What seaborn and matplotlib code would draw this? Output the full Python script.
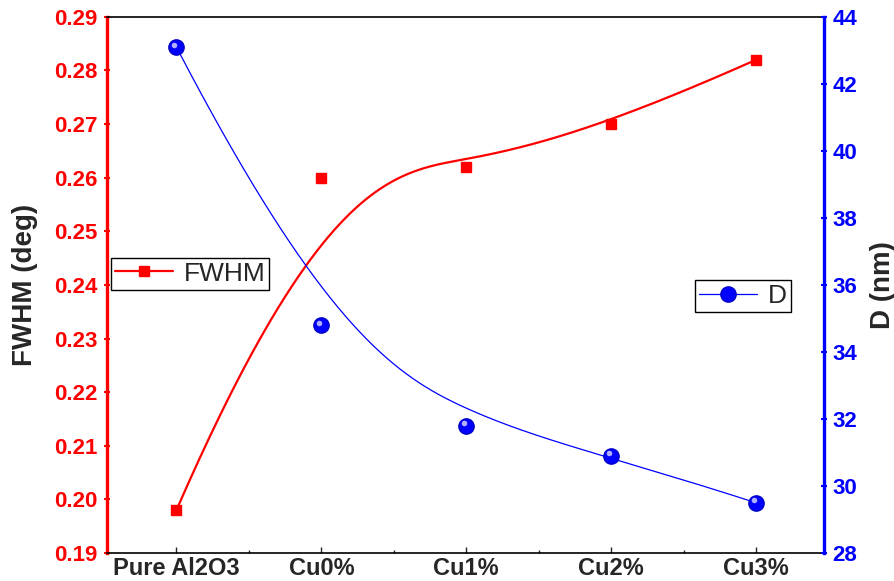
import numpy as np
import seaborn as sns
import matplotlib.pyplot as plt
from matplotlib.lines import Line2D
from matplotlib.transforms import offset_copy

# Datos
samples = ["Pure Al2O3", "Cu0%", "Cu1%", "Cu2%", "Cu3%"]
fwhm = [0.198, 0.260, 0.262, 0.270, 0.282]
crystal_size = [43.1, 34.8, 31.8, 30.9, 29.5]


def bspline(px, py, n=300, k=3):
    '''B-spline cúbica sujeta usando los puntos como puntos de control'''
    px = np.asarray(px, float)
    py = np.asarray(py, float)
    m = len(px)
    knots = np.concatenate([np.zeros(k), np.linspace(0, 1, m - k + 1), np.ones(k)])
    t = np.linspace(0, 1, n)
    N = np.zeros((n, len(knots) - 1))
    for j in range(len(knots) - 1):
        N[:, j] = (knots[j] <= t) & (t < knots[j + 1])
    N[-1, m - 1] = 1.0
    for d in range(1, k + 1):
        newN = np.zeros((n, len(knots) - 1 - d))
        for j in range(len(knots) - 1 - d):
            a = knots[j + d] - knots[j]
            b = knots[j + d + 1] - knots[j + 1]
            left = (t - knots[j]) / a * N[:, j] if a > 0 else 0
            right = (knots[j + d + 1] - t) / b * N[:, j + 1] if b > 0 else 0
            newN[:, j] = left + right
        N = newN
    return N @ px, N @ py


sns.set_style("white")
plt.rcParams['font.family'] = ['Liberation Sans', 'DejaVu Sans']

x = np.arange(len(samples))
fig, ax = plt.subplots(figsize=(8.95, 5.81), dpi=100)
fig.subplots_adjust(left=0.12, right=0.921, bottom=0.048, top=0.971)
ax2 = ax.twinx()

# Curva FWHM
sx, sy = bspline(x, fwhm)
sns.lineplot(x=sx, y=sy, ax=ax, color='red', lw=1.6, sort=False, estimator=None)
ax.plot(x, fwhm, 's', color='red', ms=7.5, zorder=5)

# Curva D
sx2, sy2 = bspline(x, crystal_size)
sns.lineplot(x=sx2, y=sy2, ax=ax2, color='blue', lw=0.9, sort=False, estimator=None)
ax2.plot(x, crystal_size, 'o', color='blue', mec='#0000c8', ms=11, zorder=5)
hl = offset_copy(ax2.transData, fig=fig, x=-2.5, y=2.5, units='dots')
ax2.plot(x, crystal_size, 'o', color='#d0d0ff', mec='none', ms=4, alpha=0.85,
         transform=hl, zorder=6)

ax.set_xlim(-0.476, 4.47)
ax.set_ylim(0.19, 0.29)
ax2.set_ylim(28, 44)
ax.set_xticks(x)
ax.set_xticklabels(samples, fontsize=17, fontweight='bold')
ax.set_xticks(np.arange(0.5, 4.0, 1.0), minor=True)
ax.set_yticks(np.arange(0.19, 0.2901, 0.01))
ax.set_yticklabels([f'{v:.2f}' for v in np.arange(0.19, 0.2901, 0.01)],
                   fontsize=16, fontweight='bold', color='red')
ax2.set_yticks(np.arange(28, 45, 2))
ax2.set_yticklabels([str(v) for v in range(28, 45, 2)],
                    fontsize=16, fontweight='bold', color='blue')

ax.tick_params(axis='x', which='both', direction='in', length=4, width=1, pad=3, bottom=True)
ax.tick_params(axis='x', which='minor', length=2.5)
ax.tick_params(axis='y', direction='inout', length=4, width=1.5, color='red', pad=5, left=True)
ax2.tick_params(axis='y', direction='inout', length=4, width=1.5, color='blue', pad=4, right=True)

ax.set_ylabel('FWHM (deg)', fontsize=20, fontweight='bold', labelpad=12)
ax2.set_ylabel('D (nm)', fontsize=20, fontweight='bold', labelpad=9)

# Ejes con colores
ax.spines['left'].set_color('red')
ax.spines['left'].set_linewidth(2.4)
ax.spines['right'].set_visible(False)
ax2.spines['right'].set_color('blue')
ax2.spines['right'].set_linewidth(2.4)
for sp in ['left', 'top', 'bottom']:
    ax2.spines[sp].set_visible(False)
for sp in ['top', 'bottom']:
    ax.spines[sp].set_color('black')
    ax.spines[sp].set_linewidth(1.2)

# Leyendas
h1 = Line2D([], [], color='red', lw=1.6, marker='s', ms=7.5)
leg1 = ax.legend([h1], ['FWHM'], loc='upper left', bbox_to_anchor=(0.005, 0.551),
                 borderaxespad=0, fancybox=False, edgecolor='black', framealpha=1,
                 fontsize=19, handlelength=2.2, borderpad=0.15, handletextpad=0.4)
leg1.get_frame().set_linewidth(1.0)
h2 = Line2D([], [], color='blue', lw=0.9, marker='o', ms=11, mec='#0000c8')
leg2 = ax2.legend([h2], ['D'], loc='upper right', bbox_to_anchor=(0.953, 0.509),
                  borderaxespad=0, fancybox=False, edgecolor='black', framealpha=1,
                  fontsize=19, handlelength=2.2, borderpad=0.15, handletextpad=0.4)
leg2.get_frame().set_linewidth(1.0)

plt.savefig('out.png', dpi=100)
